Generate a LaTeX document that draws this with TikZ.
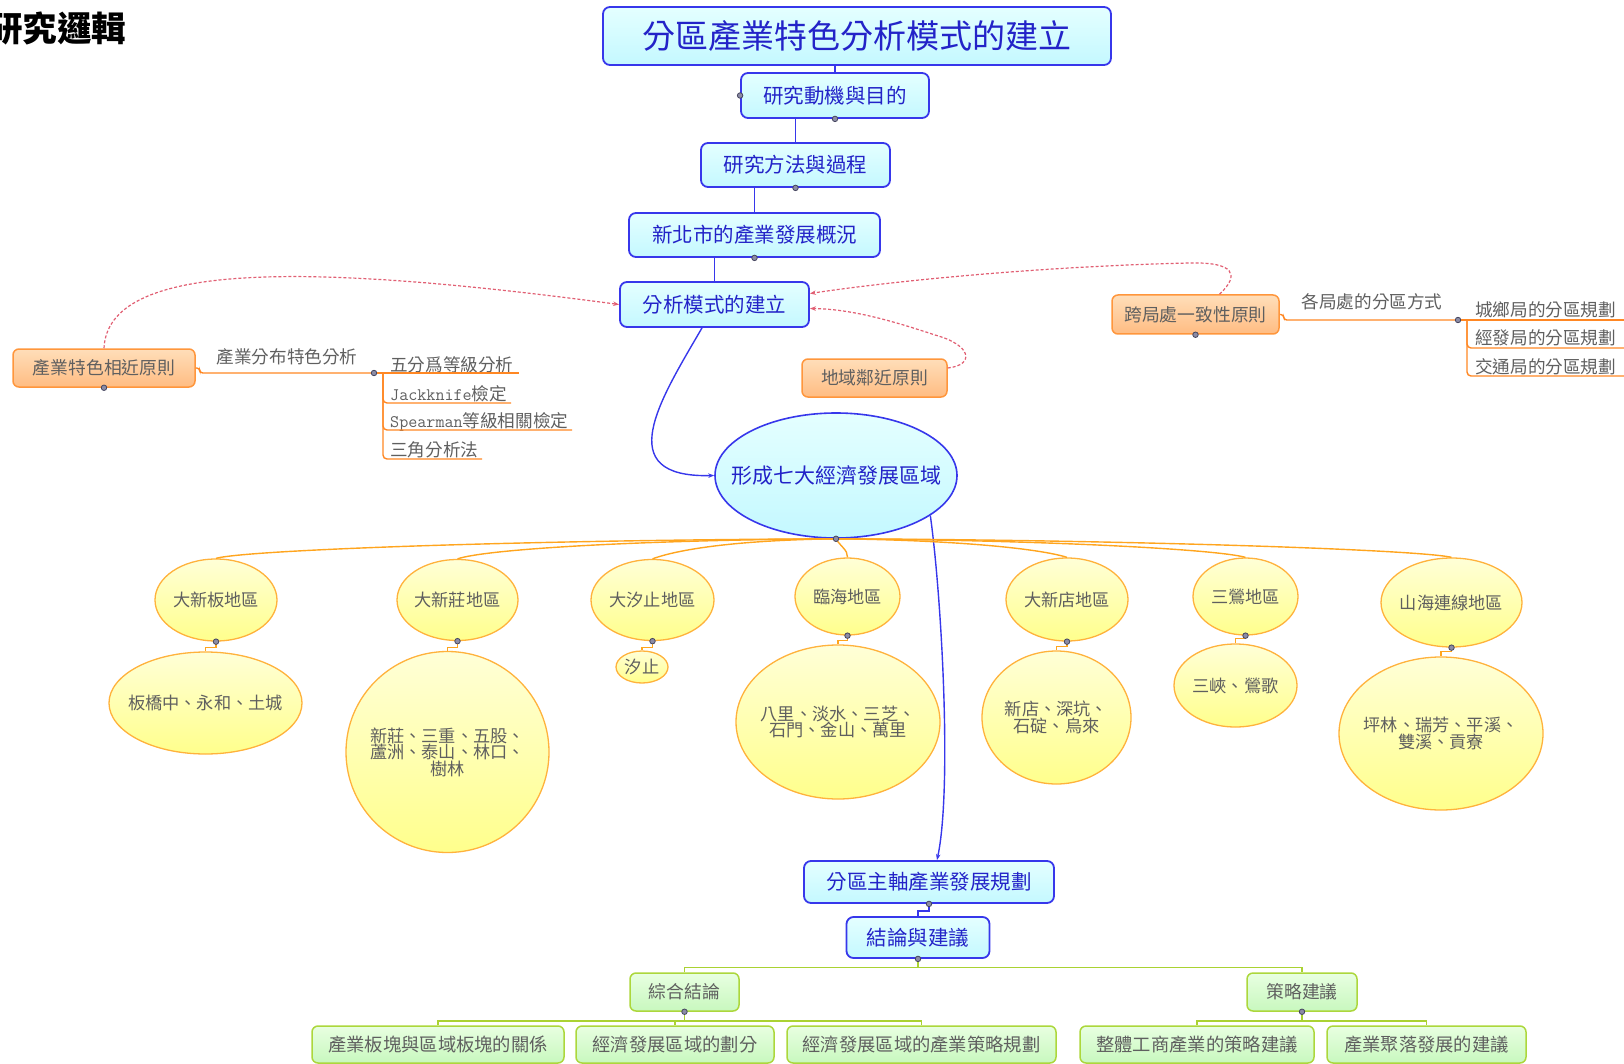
\documentclass[tikz,border=0pt]{standalone}
\usepackage{fontspec}
\setmainfont{Noto Sans CJK TC}
\usetikzlibrary{shapes.geometric,arrows.meta,calc}
\newcommand{\myfs}[2]{\fontsize{#1}{#2}\selectfont}
\definecolor{bBorder}{RGB}{55,55,235}
\definecolor{bText}{RGB}{35,35,200}
\definecolor{bTop}{RGB}{228,255,255}
\definecolor{bBot}{RGB}{196,248,255}
\definecolor{oBorder}{RGB}{255,150,60}
\definecolor{oTop}{RGB}{255,222,185}
\definecolor{oBot}{RGB}{255,188,130}
\definecolor{grayT}{RGB}{95,95,95}
\definecolor{oLine}{RGB}{255,135,35}
\definecolor{fanLine}{RGB}{255,165,30}
\definecolor{yBorder}{RGB}{255,178,60}
\definecolor{yTop}{RGB}{255,255,215}
\definecolor{yBot}{RGB}{255,255,140}
\definecolor{gBorder}{RGB}{172,215,60}
\definecolor{gTop}{RGB}{232,255,225}
\definecolor{gBot}{RGB}{200,248,190}
\definecolor{gLine}{RGB}{170,210,50}
\definecolor{rDash}{RGB}{225,95,115}
\definecolor{knobF}{RGB}{140,140,165}
\definecolor{knobD}{RGB}{70,70,95}
\begin{document}
\begin{tikzpicture}[x=1pt,y=-1pt,
  bluebox/.style={draw=bBorder, line width=1.8pt, rounded corners=7pt, top color=bTop, bottom color=bBot, text=bText, inner sep=0pt, font=\myfs{20.5}{20.5}},
  orbox/.style={draw=oBorder, line width=1.5pt, rounded corners=6pt, top color=oTop, bottom color=oBot, text=grayT, inner sep=0pt, font=\myfs{17.8}{17.8}},
  grbox/.style={draw=gBorder, line width=1.5pt, rounded corners=6pt, top color=gTop, bottom color=gBot, text=grayT, inner sep=0pt, font=\myfs{18.3}{18.3}},
  yell/.style={ellipse, draw=yBorder, line width=1.3pt, top color=yTop, bottom color=yBot, inner sep=0pt},
  ytext/.style={font=\myfs{17.2}{16.5}, text=grayT, align=center, inner sep=0pt},
  plaintext/.style={font=\myfs{17.6}{17.6}, text=grayT, inner sep=0pt},
  item/.style={font=\myfs{17.6}{17.6}, text=grayT, inner sep=0pt, anchor=west},
  knob/.style={circle, inner sep=0pt, minimum size=5.5pt, fill=knobF, draw=knobD, line width=0.8pt},
  bline/.style={draw=bBorder, line width=1.4pt},
  oline/.style={draw=oLine, line width=1.4pt},
  fan/.style={draw=fanLine, line width=1.4pt},
  gline/.style={draw=gLine, line width=1.5pt},
  rdash/.style={draw=rDash, line width=1.2pt, dash pattern=on 3pt off 2pt, -{Stealth[length=6pt,width=4.5pt]}},
  barrow/.style={-{Stealth[length=6pt,width=4.5pt]}}
]
\useasboundingbox (0,0) rectangle (1624,1064);
\clip (0,0) rectangle (1624,1064);

% heading (cut at the left edge, as in the reference)
\node[anchor=west, inner sep=0pt, font=\bfseries\myfs{34.5}{34.5}] (heading) at (-12,28) {研究邏輯};

% blue main chain
\node[bluebox, minimum width=508, minimum height=58, font=\myfs{33}{33}] (title) at (857,36) {分區產業特色分析模式的建立};
\node[bluebox, minimum width=188, minimum height=45] (m1) at (835,95.5) {研究動機與目的};
\node[bluebox, minimum width=189, minimum height=44] (m2) at (795.5,165) {研究方法與過程};
\node[bluebox, minimum width=251, minimum height=44] (m3) at (754.5,235) {新北市的產業發展概況};
\node[bluebox, minimum width=189, minimum height=45] (m4) at (714.5,304.5) {分析模式的建立};
\node[ellipse, draw=bBorder, line width=1.6pt, top color=bTop, bottom color=bBot, inner sep=0pt,
      minimum width=242, minimum height=125,
      label={[text=bText, font=\myfs{21}{21}, inner sep=0pt]center:形成七大經濟發展區域}] (ell) at (836,475.5) {};
\node[bluebox, minimum width=250, minimum height=42] (m5) at (929,882) {分區主軸產業發展規劃};
\node[bluebox, minimum width=143, minimum height=41] (m6) at (918,937.5) {結論與建議};

% orange principle boxes
\node[orbox, minimum width=182, minimum height=38] (o1) at (104,368) {產業特色相近原則};
\node[orbox, minimum width=145, minimum height=38] (o2) at (874.5,378) {地域鄰近原則};
\node[orbox, minimum width=167, minimum height=39] (o3) at (1195.5,314.5) {跨局處一致性原則};

% branch labels and items
\node[plaintext] (lab1) at (287,357) {產業分布特色分析};
\node[plaintext] (lab2) at (1372,302) {各局處的分區方式};
\node[item] (i1) at (390,365) {五分爲等級分析};
\node[item] (i2) at (390,394) {{\ttfamily Jackknife}檢定};
\node[item] (i3) at (390,422) {{\ttfamily Spearman}等級相關檢定};
\node[item] (i4) at (390,450) {三角分析法};
\node[item] (j1) at (1475,310) {城鄉局的分區規劃};
\node[item] (j2) at (1475,338) {經發局的分區規劃};
\node[item] (j3) at (1475,367) {交通局的分區規劃};

% yellow regions
\node[yell, minimum width=122, minimum height=82, label={[ytext]center:大新板地區}] (y1) at (216,600) {};
\node[yell, minimum width=193, minimum height=102, label={[ytext]center:板橋中、永和、土城}] (y1b) at (205.5,703) {};
\node[yell, minimum width=121, minimum height=81, label={[ytext]center:大新莊地區}] (y2) at (457.5,600) {};
\node[yell, minimum width=203, minimum height=201, label={[ytext]center:新莊、三重、五股、\\蘆洲、泰山、林口、\\樹林}] (y2b) at (447.5,752) {};
\node[yell, minimum width=123, minimum height=81, label={[ytext]center:大汐止地區}] (y3) at (652.5,600) {};
\node[yell, minimum width=52, minimum height=32, label={[ytext]center:汐止}] (y3b) at (642,667) {};
\node[yell, minimum width=105, minimum height=77, label={[ytext]center:臨海地區}] (y4) at (847.5,596.5) {};
\node[yell, minimum width=204, minimum height=154, label={[ytext]center:八里、淡水、三芝、\\石門、金山、萬里}] (y4b) at (838,722) {};
\node[yell, minimum width=122, minimum height=83, label={[ytext]center:大新店地區}] (y5) at (1067,599.5) {};
\node[yell, minimum width=149, minimum height=133, label={[ytext]center:新店、深坑、\\石碇、烏來}] (y5b) at (1056.5,717.5) {};
\node[yell, minimum width=105, minimum height=77, label={[ytext]center:三鶯地區}] (y6) at (1245.5,596.5) {};
\node[yell, minimum width=123, minimum height=83, label={[ytext]center:三峽、鶯歌}] (y6b) at (1235.5,685.5) {};
\node[yell, minimum width=141, minimum height=89, label={[ytext]center:山海連線地區}] (y7) at (1451.5,602.5) {};
\node[yell, minimum width=204, minimum height=153, label={[ytext]center:坪林、瑞芳、平溪、\\雙溪、貢寮}] (y7b) at (1441,733.5) {};

% green boxes
\node[grbox, minimum width=109, minimum height=38, font=\myfs{17.8}{17.8}] (g1) at (684.5,992) {綜合結論};
\node[grbox, minimum width=110, minimum height=38, font=\myfs{17.8}{17.8}] (g2) at (1302,992) {策略建議};
\node[grbox, minimum width=252, minimum height=37] (g3) at (438,1044.5) {產業板塊與區域板塊的關係};
\node[grbox, minimum width=198, minimum height=37] (g4) at (675,1044.5) {經濟發展區域的劃分};
\node[grbox, minimum width=269, minimum height=37] (g5) at (921.5,1044.5) {經濟發展區域的產業策略規劃};
\node[grbox, minimum width=234, minimum height=37] (g6) at (1197,1044.5) {整體工商產業的策略建議};
\node[grbox, minimum width=199, minimum height=37] (g7) at (1426.5,1044.5) {產業聚落發展的建議};

% junction knobs and coordinates
\node[knob] (kj1) at (374,373) {};
\node[knob] (kj2) at (1458,320) {};
\coordinate (jv1) at (383,373);
\coordinate (jv2) at (1467,320);
\coordinate (u1) at (519,373);
\coordinate (u2) at (511,403);
\coordinate (u3) at (572,430);
\coordinate (u4) at (482,459);
\coordinate (u5) at (1630,320);
\coordinate (u6) at (1630,348);
\coordinate (u7) at (1630,376);

% blue connectors
\draw[bline] (m1.north) -- (m1.north |- title.south);
\draw[bline] (m2.north) -- (m2.north |- m1.south);
\draw[bline] (m3.north) -- (m3.north |- m2.south);
\draw[bline] (m4.north) -- (m4.north |- m3.south);
\draw[bline, barrow] ($(m4.south)+(-12.5,0)$) .. controls (660,400) and (610,478) .. (ell.west);
\draw[bline, barrow] (ell.-23) .. controls (942,600) and (952,790) .. ($(m5.north)+(8,0)$);
\draw[bline] (m5.south) -- ++(0,7) -| (m6.north);

% red dashed relations
\draw[rdash] (o1.north) .. controls (108,262) and (300,262) .. (m4.west);
\draw[rdash] ($(o3.north)+(24,0)$) .. controls (1240,275) and (1235,262) .. (1190,263)
   .. controls (1050,266) and (900,280) .. ($(m4.east)+(0,-11)$);
\draw[rdash] ($(o2.east)+(0,-10)$) .. controls (975,365) and (972,345) .. (935,335)
   .. controls (890,320) and (850,309) .. ($(m4.east)+(0,4)$);

% orange branches
\draw[oline, rounded corners=3pt] (o1.east) -- ++(4,0) |- (kj1);
\draw[oline] (kj1) -- (jv1) -- (u1);
\draw[oline, rounded corners=4pt] (jv1) |- (u2);
\draw[oline, rounded corners=4pt] (jv1) |- (u3);
\draw[oline, rounded corners=4pt] (jv1) |- (u4);
\draw[oline, rounded corners=3pt] (o3.east) -- ++(4,0) |- (kj2);
\draw[oline] (kj2) -- (jv2) -- (u5);
\draw[oline, rounded corners=4pt] (jv2) |- (u6);
\draw[oline, rounded corners=4pt] (jv2) |- (u7);

% fan to regions
\draw[fan] (ell.south) .. controls (520,540) and (246,550) .. (y1.north);
\draw[fan] (ell.south) .. controls (640,540) and (487,549) .. (y2.north);
\draw[fan] (ell.south) .. controls (745,540) and (682,548) .. (y3.north);
\draw[fan] (ell.south) .. controls (840,546) and (848,550) .. (y4.north);
\draw[fan] (ell.south) .. controls (950,540) and (1037,548) .. (y5.north);
\draw[fan] (ell.south) .. controls (1040,540) and (1215,549) .. (y6.north);
\draw[fan] (ell.south) .. controls (1143,540) and (1421,550) .. (y7.north);
\draw[fan, line width=1.1pt] (y1.south) -- ++(0,6) -| (y1b.north);
\draw[fan, line width=1.1pt] (y2.south) -- ++(0,6) -| (y2b.north);
\draw[fan, line width=1.1pt] (y3.south) -- ++(0,6) -| (y3b.north);
\draw[fan, line width=1.1pt] (y4.south) -- ++(0,5) -| (y4b.north);
\draw[fan, line width=1.1pt] (y5.south) -- ++(0,5) -| (y5b.north);
\draw[fan, line width=1.1pt] (y6.south) -- ++(0,3) -| (y6b.north);
\draw[fan, line width=1.1pt] (y7.south) -- ++(0,4) -| (y7b.north);

% green connectors
\draw[gline] (g1.north) |- ($(m6.south)+(0,8.5)$) -| (g2.north);
\draw[gline] (m6.south) -- ++(0,8.5);
\draw[gline] (g3.north) |- ($(g1.south)+(0,9)$) -| (g5.north);
\draw[gline] (g1.south) -- ++(0,9) -| (g4.north);
\draw[gline] (g6.north) |- ($(g2.south)+(0,9)$) -| (g7.north);
\draw[gline] (g2.south) -- ++(0,9);

% collapse knobs
\node[knob] (k1) at (m1.south) {};
\node[knob] (k1w) at (m1.west) {};
\node[knob] (k2) at (m2.south) {};
\node[knob] (k3) at (m3.south) {};
\node[knob] (ke) at (ell.south) {};
\node[knob] (ko1) at (o1.south) {};
\node[knob] (ko3) at (o3.south) {};
\node[knob] (ky1) at (y1.south) {};
\node[knob] (ky2) at (y2.south) {};
\node[knob] (ky3) at (y3.south) {};
\node[knob] (ky4) at (y4.south) {};
\node[knob] (ky5) at (y5.south) {};
\node[knob] (ky6) at (y6.south) {};
\node[knob] (ky7) at (y7.south) {};
\node[knob] (k5) at (m5.south) {};
\node[knob] (k6) at (m6.south) {};
\node[knob] (kg1) at (g1.south) {};
\node[knob] (kg2) at (g2.south) {};
\end{tikzpicture}
\end{document}
